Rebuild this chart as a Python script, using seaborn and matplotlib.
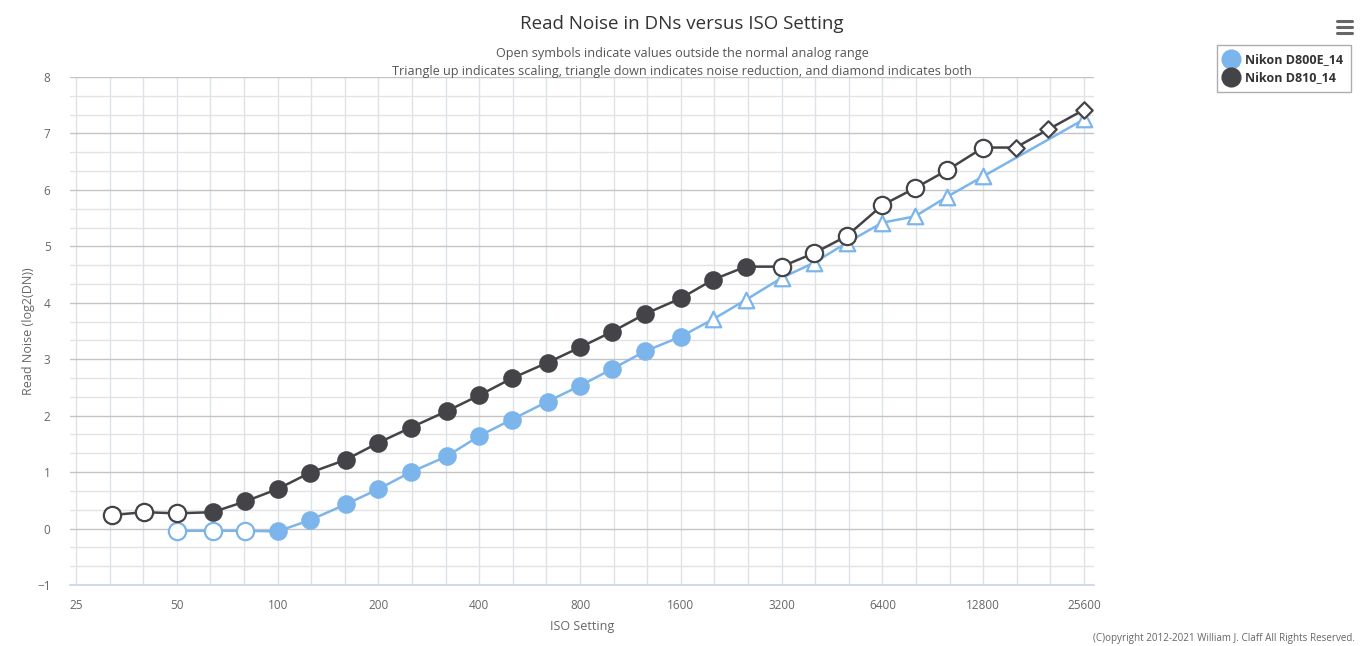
import numpy as np
import pandas as pd
import seaborn as sns
import matplotlib.pyplot as plt
from matplotlib.lines import Line2D
from matplotlib.ticker import FixedLocator, NullFormatter

# ISO settings (third stops) and read noise in log2(DN)
d810_iso = [32, 40, 50, 64, 80, 100, 125, 160, 200, 250, 320, 400, 500, 640, 800,
            1000, 1250, 1600, 2000, 2500, 3200, 4000, 5000, 6400, 8000, 10000,
            12800, 16000, 20000, 25600]
d810_noise = [0.24, 0.29, 0.27, 0.29, 0.48, 0.70, 0.99, 1.22, 1.52, 1.79, 2.08, 2.36,
              2.66, 2.94, 3.21, 3.49, 3.80, 4.08, 4.41, 4.64, 4.64, 4.88, 5.18, 5.73,
              6.03, 6.35, 6.75, 6.75, 7.07, 7.42]
d810_kind = ['open'] * 3 + ['filled'] * 17 + ['open'] * 7 + ['both'] * 3

d800e_iso = [50, 64, 80, 100, 125, 160, 200, 250, 320, 400, 500, 640, 800, 1000,
             1250, 1600, 2000, 2500, 3200, 4000, 5000, 6400, 8000, 10000, 12800, 25600]
d800e_noise = [-0.04, -0.04, -0.04, -0.05, 0.15, 0.43, 0.70, 1.00, 1.28, 1.64, 1.93,
               2.25, 2.53, 2.83, 3.14, 3.40, 3.71, 4.05, 4.44, 4.71, 5.06, 5.42, 5.53,
               5.88, 6.24, 7.25]
d800e_kind = ['open'] * 3 + ['filled'] * 13 + ['scaling'] * 10

cameras = ['Nikon D800E_14', 'Nikon D810_14']
colors = {'Nikon D800E_14': '#7cb5ec', 'Nikon D810_14': '#434348'}

df = pd.concat([
    pd.DataFrame({'iso': d800e_iso, 'noise': d800e_noise, 'kind': d800e_kind,
                  'camera': cameras[0]}),
    pd.DataFrame({'iso': d810_iso, 'noise': d810_noise, 'kind': d810_kind,
                  'camera': cameras[1]}),
])

sns.set_theme(style='white')
plt.rcParams['font.family'] = ['Open Sans', 'DejaVu Sans']

fig = plt.figure(figsize=(13.64, 6.46), dpi=100)
ax = fig.add_axes([70 / 1364, 1 - 585 / 646, (1094 - 70) / 1364, (585 - 77) / 646])
ax.set_xscale('log', base=2)

for i, cam in enumerate(cameras):
    sub = df[df.camera == cam]
    sns.lineplot(data=sub, x='iso', y='noise', color=colors[cam], estimator=None,
                 sort=False, linewidth=1.8, ax=ax, zorder=3 + 2 * i, legend=False)
    for kind, grp in sub.groupby('kind'):
        if kind == 'filled':
            kw = dict(marker='o', s=180, color=colors[cam], edgecolor=colors[cam], linewidth=0)
        elif kind == 'open':
            kw = dict(marker='o', s=155, color='white', edgecolor=colors[cam], linewidth=1.6)
        elif kind == 'scaling':
            kw = dict(marker='^', s=125, color='white', edgecolor=colors[cam], linewidth=1.6)
        else:
            kw = dict(marker='D', s=70, color='white', edgecolor=colors[cam], linewidth=1.6)
        sns.scatterplot(data=grp, x='iso', y='noise', ax=ax, zorder=4 + 2 * i,
                        legend=False, **kw)

# axes: log2 ISO, third-stop grid
major = [25 * 2 ** k for k in range(11)]
minor = [25 * 2 ** (k / 3) for k in range(31) if k % 3]
ax.set_xlim(25 * 2 ** (-6 / 100.8), 25600 * 2 ** (10 / 100.8))
ax.xaxis.set_major_locator(FixedLocator(major))
ax.xaxis.set_minor_locator(FixedLocator(minor))
ax.set_xticklabels([str(v) for v in major])
ax.xaxis.set_minor_formatter(NullFormatter())
ax.set_ylim(-1, 8)
ax.yaxis.set_major_locator(FixedLocator(range(-1, 9)))
ax.yaxis.set_minor_locator(FixedLocator([k / 3 for k in range(-3, 25) if k % 3]))

ax.grid(axis='x', which='both', color='#dde2e8', linewidth=1)
ax.grid(axis='y', which='major', color='#c4c4c4', linewidth=1)
ax.grid(axis='y', which='minor', color='#e3e3e3', linewidth=1)
ax.set_axisbelow(True)

for side in ['top', 'right', 'left']:
    ax.spines[side].set_visible(False)
ax.spines['bottom'].set_color('#ccd6eb')
ax.tick_params(axis='x', which='major', length=6, color='#ccd6eb', labelsize=8.5,
               labelcolor='#666666', pad=4)
ax.tick_params(axis='x', which='minor', length=0)
ax.tick_params(axis='y', which='both', length=0, labelsize=8.5, labelcolor='#666666', pad=14)

ax.set_xlabel('ISO Setting', fontsize=9, color='#666666', labelpad=6)
ax.set_ylabel('Read Noise (log2(DN))', fontsize=9, color='#666666', labelpad=1.5)

fig.text(0.5, 1 - 24 / 646, 'Read Noise in DNs versus ISO Setting', ha='center',
         va='center', fontsize=13.5, color='#333333')
fig.text(0.5, 1 - 54 / 646, 'Open symbols indicate values outside the normal analog range',
         ha='center', va='center', fontsize=9.1, color='#555555')
fig.text(0.5, 1 - 71 / 646,
         'Triangle up indicates scaling, triangle down indicates noise reduction, and diamond indicates both',
         ha='center', va='center', fontsize=9.1, color='#555555')
fig.text(1355 / 1364, 1 - 639 / 646,
         '(C)opyright 2012-2021 William J. Claff All Rights Reserved.',
         ha='right', va='center', fontsize=7.1, color='#666666')

# menu icon
for yy in (21, 27, 33):
    fig.add_artist(Line2D([1337 / 1364, 1352 / 1364], [1 - yy / 646] * 2,
                          color='#666666', linewidth=2.2, solid_capstyle='round'))

handles = [Line2D([], [], marker='o', linestyle='none', markersize=13.5,
                  markerfacecolor=colors[c], markeredgecolor=colors[c]) for c in cameras]
leg = fig.legend(handles, cameras, loc='upper left', bbox_to_anchor=(1217 / 1364, 1 - 45 / 646),
                 frameon=True, fancybox=False, edgecolor='#999999', handlelength=1,
                 handletextpad=0.6, borderpad=0.65, labelspacing=0.4, borderaxespad=0,
                 prop={'weight': 'bold', 'size': 9})
leg.get_frame().set_linewidth(1)
for t in leg.get_texts():
    t.set_color('#333333')

fig.savefig('out.png', dpi=100)
